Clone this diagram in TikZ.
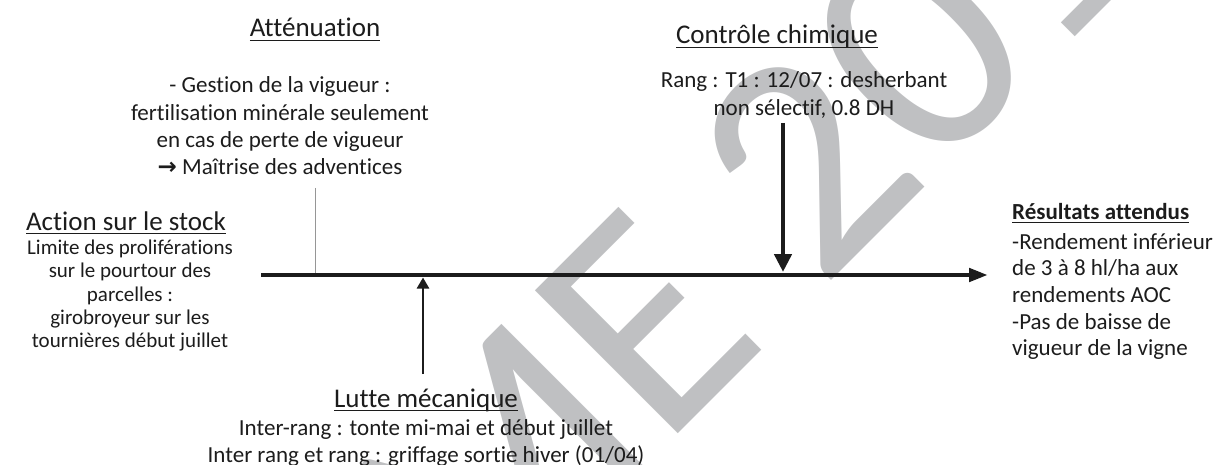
\documentclass[tikz,border=0pt]{standalone}
\usepackage{fontspec}
\setmainfont{Carlito}[Ligatures=NoCommon]
\newfontfamily\symfont{DejaVu Sans}
\usetikzlibrary{arrows.meta}
\definecolor{wmgray}{RGB}{191,192,194}
\definecolor{thingray}{RGB}{150,150,150}
\definecolor{ink}{RGB}{28,28,28}
\newsavebox\ulbox
\newcommand\myul[1]{\sbox\ulbox{#1}\rlap{\rule[-4.4pt]{\wd\ulbox}{1.5pt}}\usebox\ulbox}
\newcommand\topstrut{\rule{0pt}{18pt}}
\begin{document}
\begin{tikzpicture}[x=1pt,y=-1pt,
  watermark/.style={anchor=base west, inner sep=0, rotate=45, text=wmgray,
    font=\fontsize{315}{315}\selectfont},
  ttl/.style={anchor=base, inner sep=0, text=ink, font=\fontsize{27}{32}\selectfont},
  bodytext/.style={anchor=north, inner sep=0, align=center, text=ink,
    font=\fontsize{23}{27.4}\selectfont},
  smalltext/.style={anchor=north, inner sep=0, align=center, text=ink,
    font=\fontsize{21}{23.4}\selectfont},
  restitle/.style={anchor=base west, inner sep=0, text=ink,
    font=\fontsize{23}{27}\selectfont\bfseries},
  resbody/.style={anchor=north west, inner sep=0, align=left, text=ink,
    font=\fontsize{23}{26.6}\selectfont},
  mainline/.style={draw=ink, line width=4.5pt, -{Triangle[length=19pt,width=13pt]}},
  bigarrow/.style={draw=ink, line width=4.5pt, -{Triangle[length=18pt,width=17pt]}},
  smallarrow/.style={draw=ink, line width=2.5pt, -{Triangle[length=11pt,width=12pt]}},
  thinline/.style={draw=thingray, line width=1pt}
]
\useasboundingbox (0,0) rectangle (1220,465);
\begin{scope}
  \clip (0,0) rectangle (1220,465);
  \node[watermark] (wm) at (472,640) {ME 201};
\end{scope}

% titles and texts
\node[ttl] (att) at (315,37) {\myul{Atténuation}};
\node[bodytext] (attb) at (280,74.5) {\topstrut- Gestion de la vigueur :\\fertilisation minérale seulement\\en cas de perte de vigueur\\{\symfont\bfseries →} Maîtrise des adventices};

\node[ttl] (chim) at (777,44) {\myul{Contrôle chimique}};
\node[bodytext] (chimb) at (804,69.5) {\topstrut Rang : T1 : 12/07 : desherbant\\non sélectif, 0.8 DH};

\node[ttl] (stock) at (126,230) {\myul{Action sur le stock}};
\node[smalltext] (stockb) at (130,236) {\topstrut Limite des proliférations\\sur le pourtour des\\parcelles :\\girobroyeur sur les\\tournières début juillet};

\node[ttl] (lutte) at (426,407) {\myul{Lutte mécanique}};
\node[bodytext] (lutteb) at (426,417) {\topstrut Inter-rang : tonte mi-mai et début juillet\\Inter rang et rang : griffage sortie hiver (01/04)};

\node[restitle] (res) at (1012,219) {\myul{Résultats attendus}};
\node[resbody] (resb) at (1012,231) {\topstrut -Rendement inférieur\\de 3 à 8 hl/ha aux\\rendements AOC\\-Pas de baisse de\\vigueur de la vigne};

% connectors
\coordinate (lstart) at (261,275);
\coordinate (lend) at (988,275);
\draw[mainline] (lstart) -- (lend);

\coordinate (attfoot) at (315,188);
\coordinate (atthit) at (315,272.75);
\draw[thinline] (attfoot) -- (atthit);

\coordinate (chimfoot) at (783,123);
\coordinate (chimhit) at (783,272);
\draw[bigarrow] (chimfoot) -- (chimhit);

\coordinate (luttetop) at (423,374);
\coordinate (luttehit) at (423,277.5);
\draw[smallarrow] (luttetop) -- (luttehit);
\end{tikzpicture}
\end{document}
